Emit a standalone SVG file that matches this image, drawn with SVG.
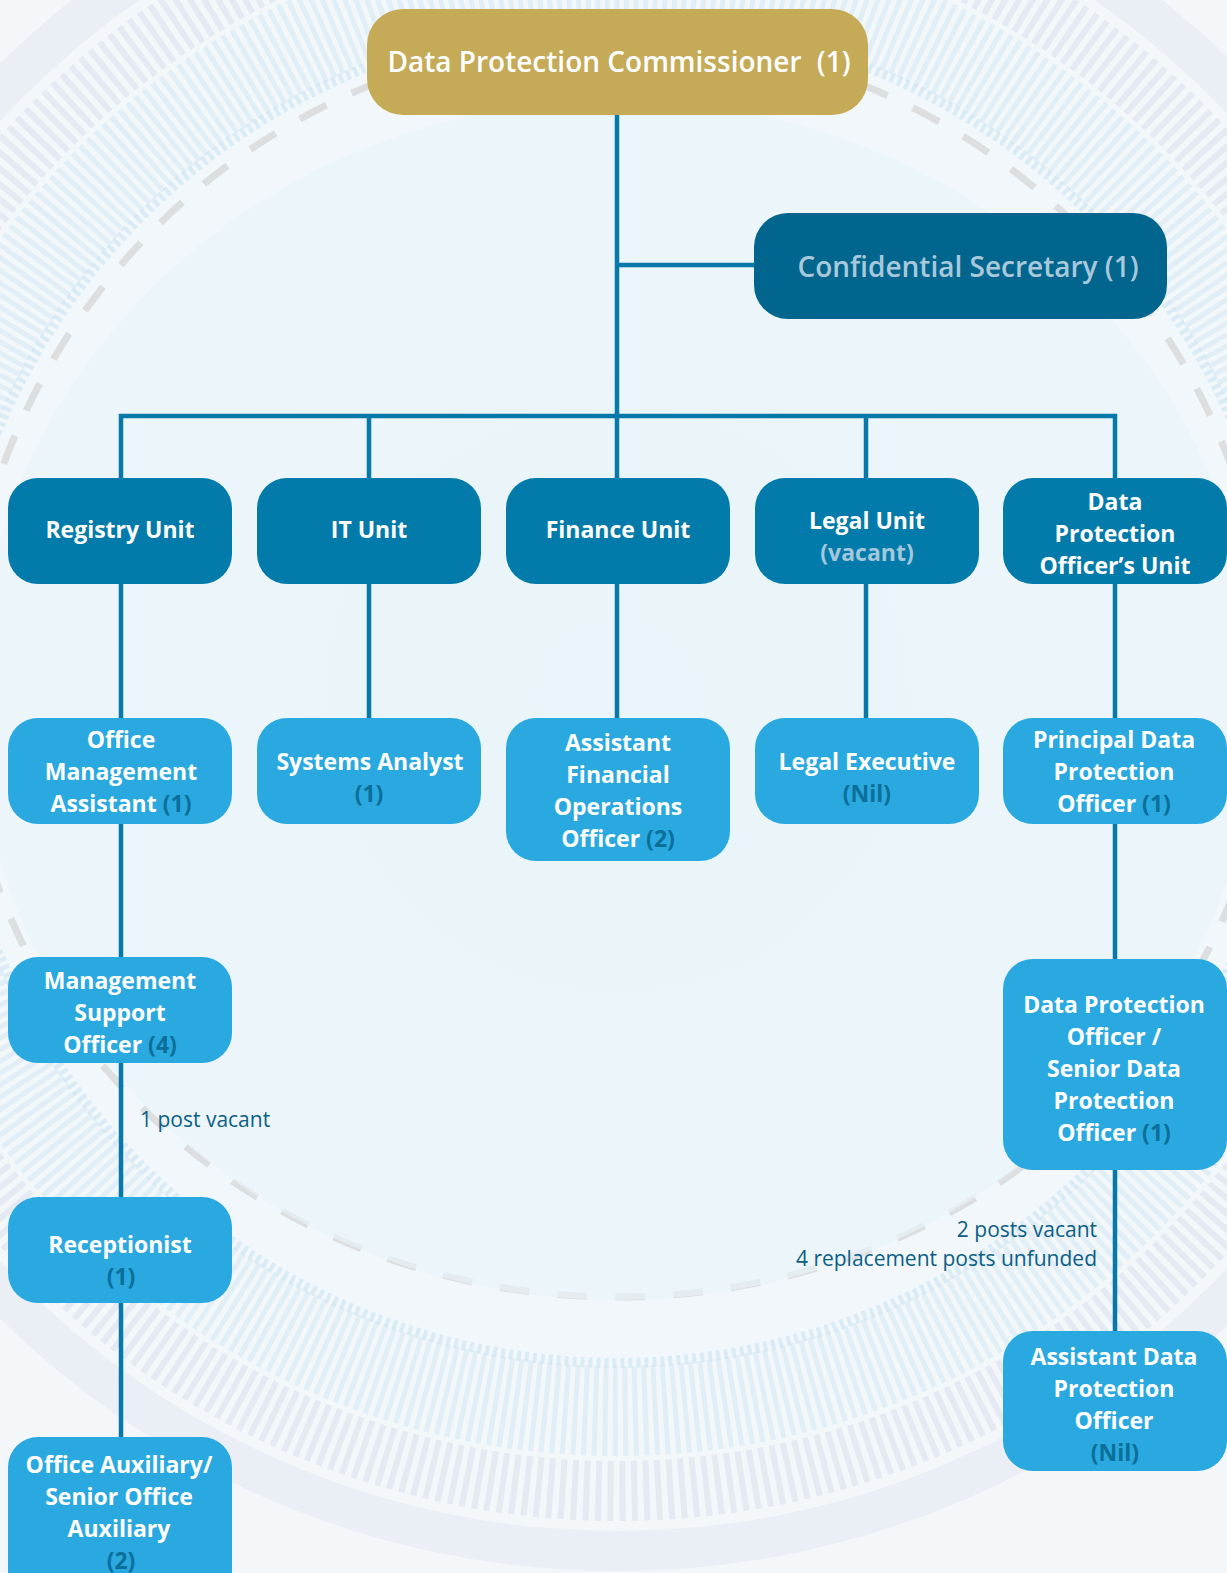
<svg xmlns="http://www.w3.org/2000/svg" width="1227" height="1573" viewBox="0 0 1227 1573">
<defs>
<radialGradient id="bg" cx="617" cy="700" r="900" gradientUnits="userSpaceOnUse">
<stop offset="0" stop-color="#E8F4FA"/>
<stop offset="0.6" stop-color="#F0F7FA"/>
<stop offset="1" stop-color="#F4F7FA"/>
</radialGradient>
<style>
.n{font-family:"Open Sans","Noto Sans","Liberation Sans",sans-serif;font-weight:700;font-size:23px;fill:#FFFFFF;text-anchor:middle}
.h{font-weight:600;font-size:28px}
.cnt{fill:#0C6F9A}
.vac{fill:#A3C7DB}
.unit{fill:#037BAA}
.role{fill:#29A9E0}
.con{fill:none;stroke:#0779A8;stroke-width:4.5}
.note{font-family:"Open Sans","Noto Sans","Liberation Sans",sans-serif;font-size:21px;fill:#0B5E85}
</style>
</defs>
<g id="background">
<rect x="0" y="0" width="1227" height="1573" fill="url(#bg)"/>
<circle cx="617" cy="691" r="720" fill="none" stroke="#D3E7F2" stroke-width="90" stroke-dasharray="5 5" opacity="0.55"/>
<circle cx="617" cy="691" r="800" fill="none" stroke="#D8DDE9" stroke-width="60" stroke-dasharray="6 6" opacity="0.5"/>
<circle cx="617" cy="691" r="860" fill="none" stroke="#E2E6EF" stroke-width="40" opacity="0.5"/>
<circle cx="617" cy="691" r="672" fill="none" stroke="#CFE6F2" stroke-width="10" stroke-dasharray="4 4" opacity="0.7"/>
<path d="M -37 691 A 654 654 0 0 1 1271 691 A 654 606 0 0 1 -37 691" fill="none" stroke="#DCDEE0" stroke-width="7" stroke-dasharray="30 28"/>
<ellipse cx="617" cy="700" rx="640" ry="600" fill="#EAF5FA" opacity="0.6"/>
</g>
<g id="connectors">
<path class="con" d="M617 115 V479"/>
<path class="con" d="M617 265 H754"/>
<path class="con" d="M121 479 V416 H1115 V479"/>
<path class="con" d="M369 416 V479"/>
<path class="con" d="M866 416 V479"/>
<path class="con" d="M121 584 V718"/>
<path class="con" d="M369 584 V718"/>
<path class="con" d="M617 584 V718"/>
<path class="con" d="M866 584 V718"/>
<path class="con" d="M1115 584 V718"/>
<path class="con" d="M121 824 V957"/>
<path class="con" d="M121 1063 V1197"/>
<path class="con" d="M121 1303 V1437"/>
<path class="con" d="M1115 824 V959"/>
<path class="con" d="M1115 1170 V1331"/>
</g>
<g id="commissioner">
<rect x="367" y="9" width="501" height="106" rx="36" fill="#C5AB57"/>
<text class="n h" x="619" y="72">Data Protection Commissioner <tspan dx="8">(1)</tspan></text>
</g>
<g id="secretary">
<rect x="754" y="213" width="413" height="106" rx="34" fill="#02658D"/>
<text class="n h" x="968" y="277" style="fill:#A8C8DC">Confidential Secretary (1)</text>
</g>
<g id="registry-unit">
<rect class="unit" x="8" y="478" width="224" height="106" rx="30"/>
<text class="n" x="120" y="538">Registry Unit</text>
</g>
<g id="it-unit">
<rect class="unit" x="257" y="478" width="224" height="106" rx="30"/>
<text class="n" x="369" y="538">IT Unit</text>
</g>
<g id="finance-unit">
<rect class="unit" x="506" y="478" width="224" height="106" rx="30"/>
<text class="n" x="618" y="538">Finance Unit</text>
</g>
<g id="legal-unit">
<rect class="unit" x="755" y="478" width="224" height="106" rx="30"/>
<text class="n" x="867" y="529">Legal Unit</text>
<text class="n vac" x="867" y="561">(vacant)</text>
</g>
<g id="dpo-unit">
<rect class="unit" x="1003" y="478" width="224" height="106" rx="30"/>
<text class="n" x="1115" y="510">Data</text>
<text class="n" x="1115" y="542">Protection</text>
<text class="n" x="1115" y="574">Officer’s Unit</text>
</g>
<g id="office-management-assistant">
<rect class="role" x="8" y="718" width="224" height="106" rx="30"/>
<text class="n" x="121" y="748">Office</text>
<text class="n" x="121" y="780">Management</text>
<text class="n" x="121" y="812">Assistant <tspan class="cnt">(1)</tspan></text>
</g>
<g id="systems-analyst">
<rect class="role" x="257" y="718" width="224" height="106" rx="30"/>
<text class="n" x="370" y="770">Systems Analyst</text>
<text class="n cnt" x="369" y="802">(1)</text>
</g>
<g id="assistant-financial-operations-officer">
<rect class="role" x="506" y="718" width="224" height="143" rx="30"/>
<text class="n" x="618" y="751">Assistant</text>
<text class="n" x="618" y="783">Financial</text>
<text class="n" x="618" y="815">Operations</text>
<text class="n" x="618" y="847">Officer <tspan class="cnt">(2)</tspan></text>
</g>
<g id="legal-executive">
<rect class="role" x="755" y="718" width="224" height="106" rx="30"/>
<text class="n" x="867" y="770">Legal Executive</text>
<text class="n cnt" x="867" y="802">(Nil)</text>
</g>
<g id="principal-dpo">
<rect class="role" x="1003" y="718" width="224" height="106" rx="30"/>
<text class="n" x="1114" y="748">Principal Data</text>
<text class="n" x="1114" y="780">Protection</text>
<text class="n" x="1114" y="812">Officer <tspan class="cnt">(1)</tspan></text>
</g>
<g id="management-support-officer">
<rect class="role" x="8" y="957" width="224" height="106" rx="30"/>
<text class="n" x="120" y="989">Management</text>
<text class="n" x="120" y="1021">Support</text>
<text class="n" x="120" y="1053">Officer <tspan class="cnt">(4)</tspan></text>
</g>
<g id="receptionist">
<rect class="role" x="8" y="1197" width="224" height="106" rx="30"/>
<text class="n" x="120" y="1253">Receptionist</text>
<text class="n cnt" x="121" y="1285">(1)</text>
</g>
<g id="office-auxiliary">
<rect class="role" x="8" y="1437" width="224" height="180" rx="30"/>
<text class="n" x="119" y="1473">Office Auxiliary/</text>
<text class="n" x="119" y="1505">Senior Office</text>
<text class="n" x="119" y="1537">Auxiliary</text>
<text class="n cnt" x="121" y="1569">(2)</text>
</g>
<g id="dpo-senior-dpo">
<rect class="role" x="1003" y="959" width="224" height="211" rx="30"/>
<text class="n" x="1114" y="1013">Data Protection</text>
<text class="n" x="1114" y="1045">Officer /</text>
<text class="n" x="1114" y="1077">Senior Data</text>
<text class="n" x="1114" y="1109">Protection</text>
<text class="n" x="1114" y="1141">Officer <tspan class="cnt">(1)</tspan></text>
</g>
<g id="assistant-dpo">
<rect class="role" x="1003" y="1331" width="224" height="140" rx="30"/>
<text class="n" x="1114" y="1365">Assistant Data</text>
<text class="n" x="1114" y="1397">Protection</text>
<text class="n" x="1114" y="1429">Officer</text>
<text class="n cnt" x="1115" y="1461">(Nil)</text>
</g>
<g id="notes">
<text class="note" x="140" y="1127">1 post vacant</text>
<text class="note" x="1097" y="1237" text-anchor="end">2 posts vacant</text>
<text class="note" x="1097" y="1266" text-anchor="end">4 replacement posts unfunded</text>
</g>
</svg>
